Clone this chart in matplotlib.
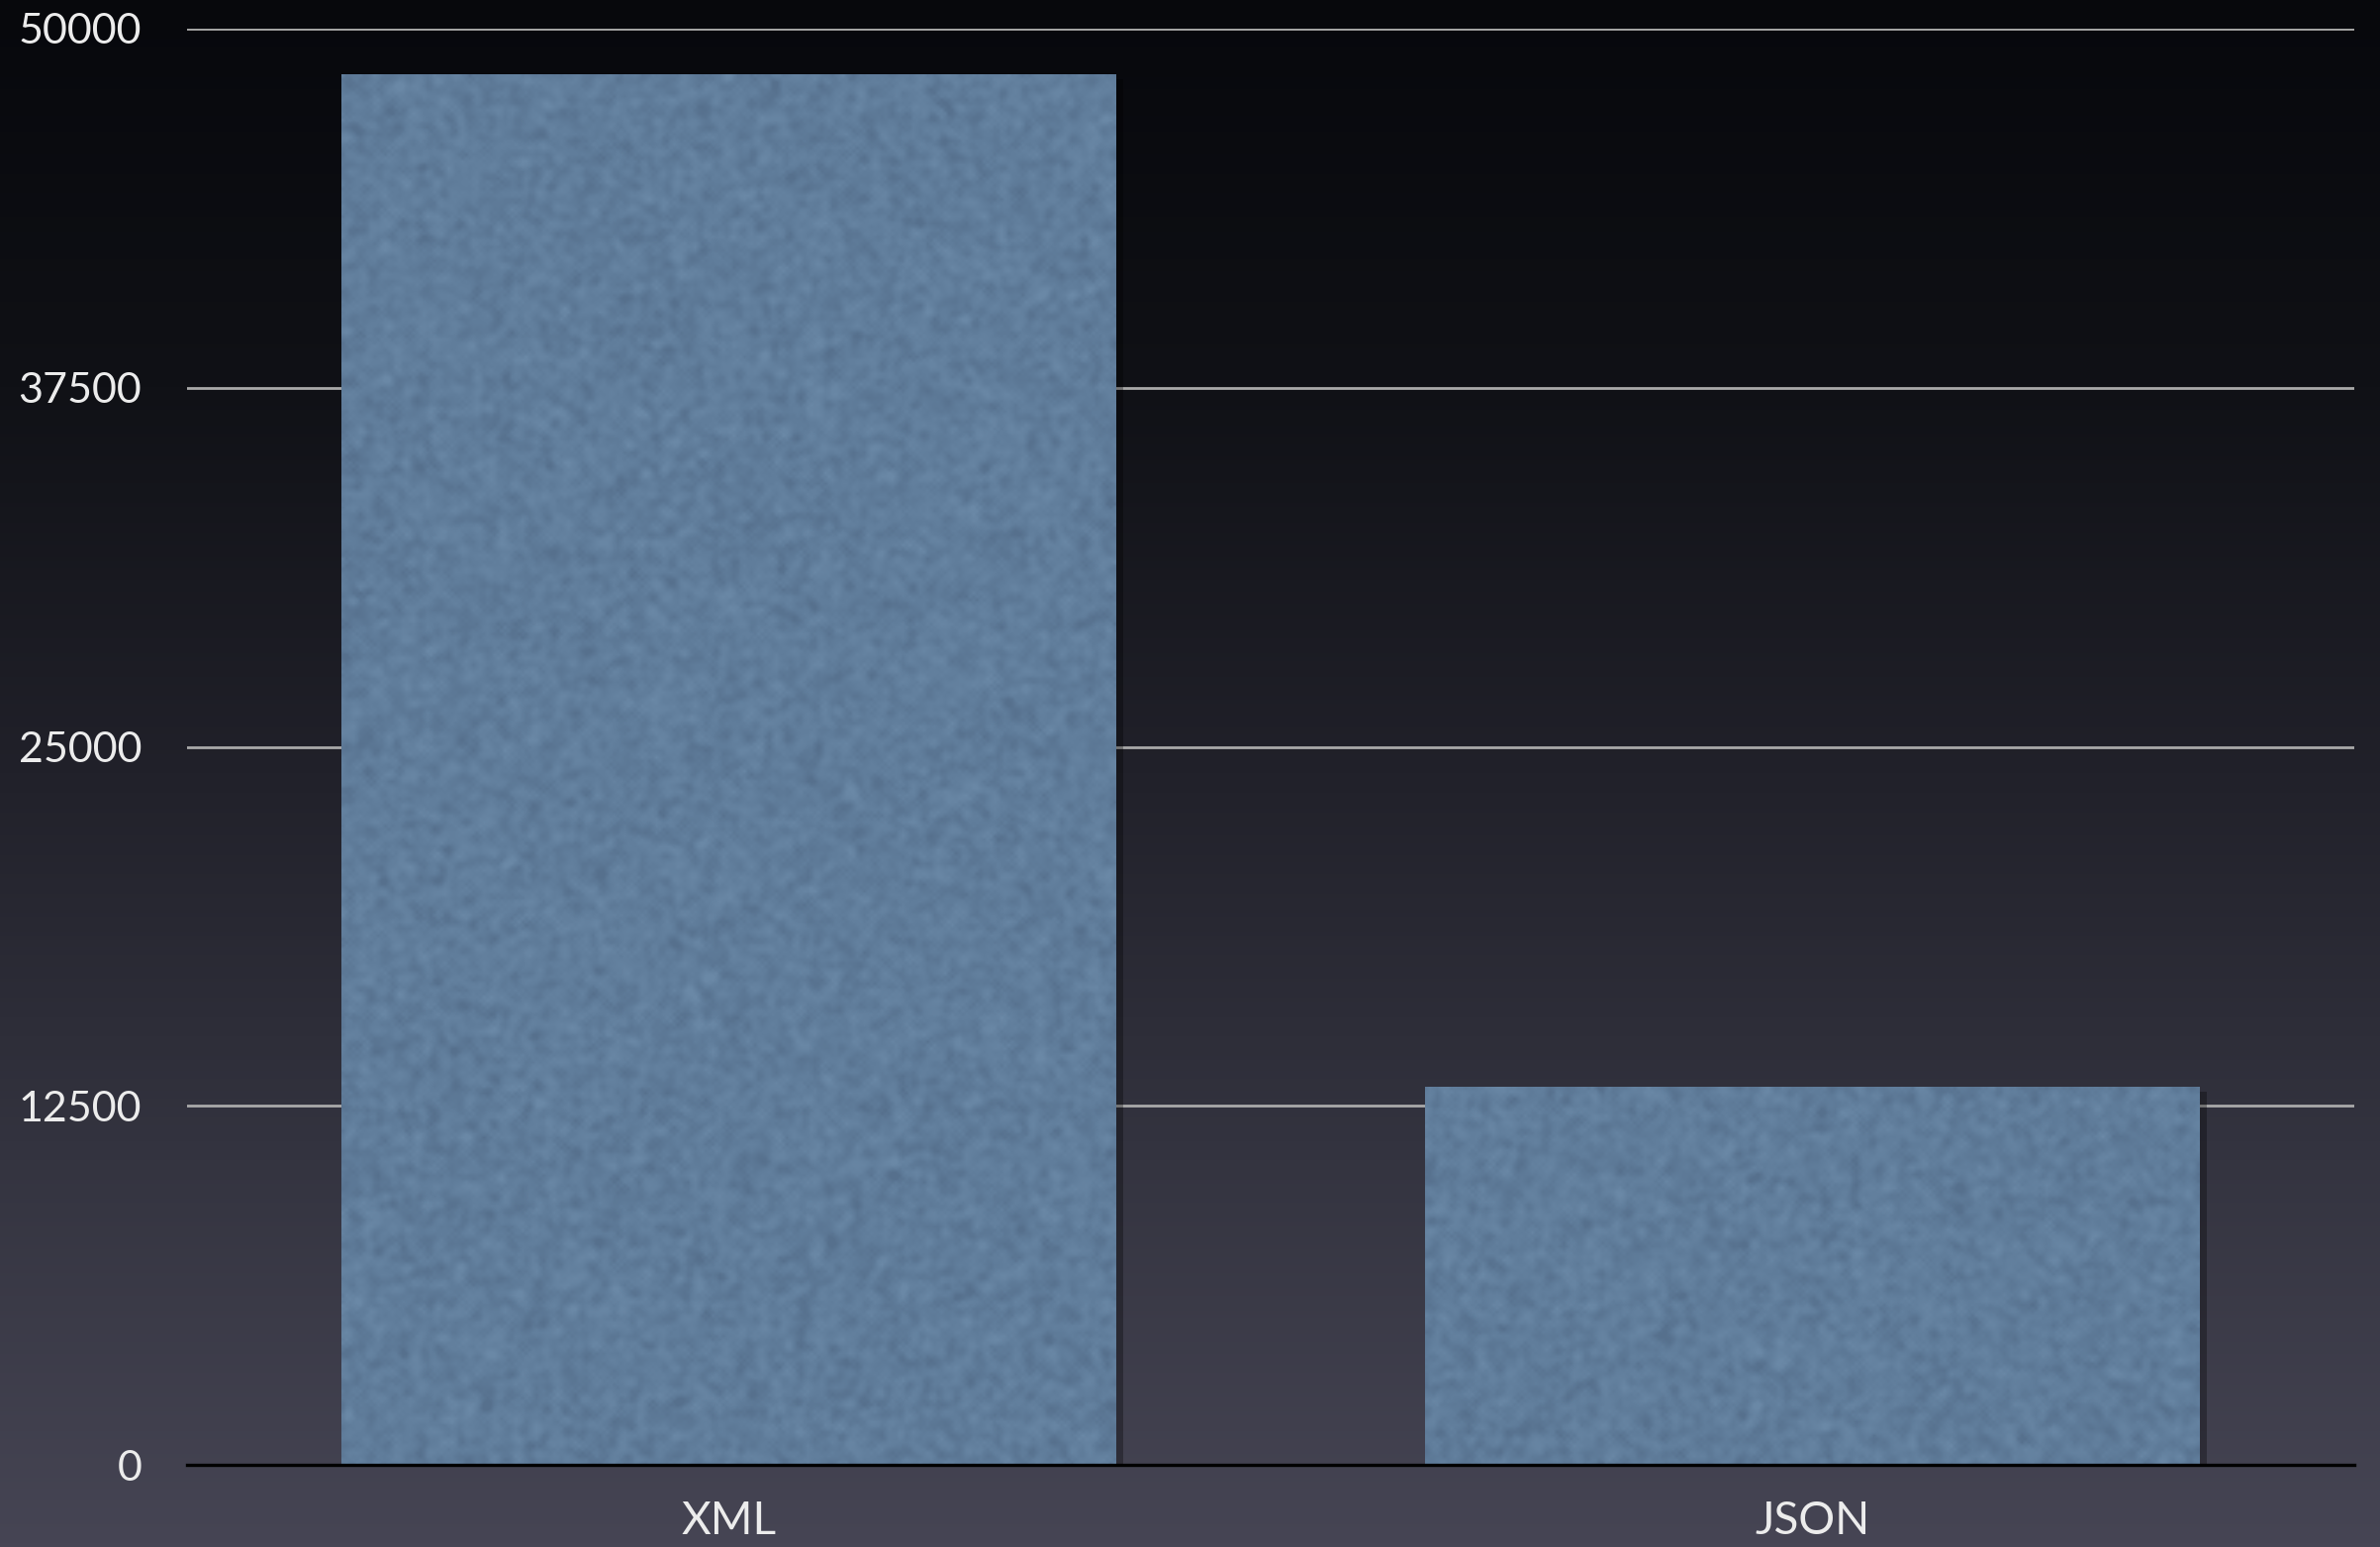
import numpy as np
import matplotlib.pyplot as plt
from matplotlib.colors import LinearSegmentedColormap
import matplotlib.patheffects as pe

# Payload size comparison
formats = ['XML', 'JSON']
sizes = [48400, 13150]
yticks = [0, 12500, 25000, 37500, 50000]

bar_color = '#607d9b'
grid_color = '#a9a9a9'
text_color = '#ececec'

plt.rcParams['font.family'] = ['Lato', 'DejaVu Sans']

fig = plt.figure(figsize=(24.05, 15.63), dpi=100)

# dark vertical gradient behind everything
bg = fig.add_axes([0, 0, 1, 1], zorder=-10)
stops = np.array([[7, 8, 12], [16, 17, 22], [33, 33, 42], [52, 52, 64], [70, 69, 84]]) / 255
pos = np.linspace(0, 1, len(stops))
t = np.linspace(0, 1, 400)
grad = np.stack([np.interp(t, pos, stops[:, c]) for c in range(3)], axis=1)
bg.imshow(grad[:, None, :], aspect='auto', extent=(0, 1, 0, 1), origin='upper')
bg.set_axis_off()

ax = fig.add_axes([189 / 2405, 1 - 1480 / 1563, (2379 - 189) / 2405, (1480 - 29) / 1563])
ax.patch.set_alpha(0)

x = np.arange(len(formats))
width = 0.715
bars = ax.bar(x, sizes, width=width, color=bar_color, zorder=3, linewidth=0)

# soft paper grain on the bars
rng = np.random.default_rng(3)
tex_cmap = LinearSegmentedColormap.from_list('grain', ['#56708d', '#607d9b', '#6a88a6'])
for b in bars:
    b.set_path_effects([pe.SimplePatchShadow(offset=(5, -3), shadow_rgbFace='black', alpha=0.3), pe.Normal()])
    x0, w, h = b.get_x(), b.get_width(), b.get_height()
    ny = max(int(h / 50000 * 420), 20)
    noise = rng.normal(size=(ny, 220))
    for _ in range(2):
        noise = (noise + np.roll(noise, 1, 0) + np.roll(noise, 1, 1)
                 + np.roll(noise, -1, 0) + np.roll(noise, -1, 1)) / 5
    im = ax.imshow(noise, extent=(x0, x0 + w, 0, h), cmap=tex_cmap, vmin=-0.9, vmax=0.9,
                   aspect='auto', interpolation='bilinear', zorder=4)
    im.set_clip_path(b)

ax.set_xlim(-0.5, len(formats) - 0.5)
ax.set_ylim(0, 50000)
ax.set_yticks(yticks)
ax.set_yticklabels([str(v) for v in yticks])
ax.set_xticks(x)
ax.set_xticklabels(formats)

for v in yticks[1:]:
    ax.axhline(v, color=grid_color, lw=2, zorder=1)
ax.axhline(0, color='black', lw=2.4, zorder=6, clip_on=False)

ax.tick_params(axis='y', length=0, pad=33, labelsize=31, labelcolor=text_color)
ax.tick_params(axis='x', length=0, pad=26, labelsize=33, labelcolor=text_color)
for s in ax.spines.values():
    s.set_visible(False)

plt.savefig('out.png', dpi=100)
